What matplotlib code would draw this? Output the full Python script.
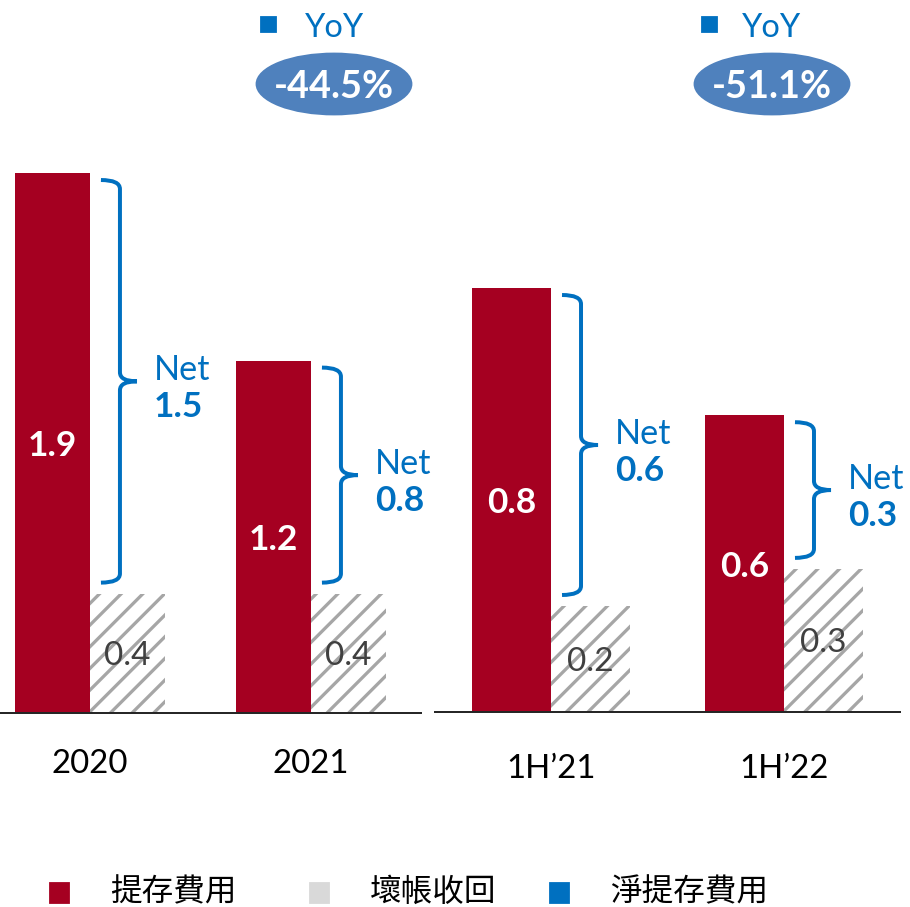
import matplotlib.pyplot as plt
import numpy as np
from matplotlib.patches import Ellipse, Rectangle, PathPatch
from matplotlib.path import Path

plt.rcParams['font.family'] = ['Lato', 'Noto Sans CJK TC', 'DejaVu Sans']
plt.rcParams['hatch.linewidth'] = 1.8

# data (NT$ bn)
periods_annual = ["2020", "2021"]
provision_annual = [1.90, 1.24]
recovery_annual = [0.42, 0.42]

periods_half = ["1H’21", "1H’22"]
provision_half = [0.80, 0.56]
recovery_half = [0.20, 0.27]

yoy_labels = ["-44.5%", "-51.1%"]
legend_labels = ["提存費用", "壞帳收回", "淨提存費用"]

RED = '#A50021'
GREY = '#D9D9D9'
HATCH = '#A6A6A6'
BLUE = '#0070C0'
OVAL = '#4F81BD'

DPI = 130
W, H = 910, 907
fig = plt.figure(figsize=(W / DPI, H / DPI), dpi=DPI)


def frac(x, y):
    # pixel position measured from top-left -> figure fraction
    return x / W, 1 - y / H


def brace(ax, xe, top, bottom):
    # curly brace to the right of the red bar, from its top to the recovery top
    to_px = ax.transData.transform
    ex, ty = to_px((xe, top))
    _, by = to_px((xe, bottom))
    y_top, y_bot = ty - 7, by + 11
    ym = (y_top + y_bot) / 2
    xs, xv, xt = ex + 11, ex + 30, ex + 47
    r = 9
    verts = [(xs, y_top), (xv, y_top), (xv, y_top - r), (xv, ym + r), (xv, ym), (xt, ym),
             (xv, ym), (xv, ym - r), (xv, y_bot + r), (xv, y_bot), (xs, y_bot)]
    codes = [Path.MOVETO, Path.CURVE3, Path.CURVE3, Path.LINETO, Path.CURVE3, Path.CURVE3,
             Path.CURVE3, Path.CURVE3, Path.LINETO, Path.CURVE3, Path.CURVE3]
    inv = ax.transData.inverted()
    path = Path(inv.transform(verts), codes)
    ax.add_patch(PathPatch(path, fill=False, edgecolor=BLUE, lw=2.2, capstyle='butt', clip_on=False))
    tx, ty1 = inv.transform((xt + 17, ym + 14))
    _, ty2 = inv.transform((xt + 17, ym - 23))
    ax.text(tx, ty1, 'Net', ha='left', va='center_baseline', color=BLUE, fontsize=19)
    ax.text(tx, ty2, f'{top - bottom:.1f}', ha='left', va='center_baseline', color=BLUE,
            fontsize=19.5, fontweight='bold')


def panel(left, right, base, ymax, xlim, labels, provision, recovery, pad):
    x0, y0 = frac(left, base)
    ax = fig.add_axes([x0, y0, (right - left) / W, 1 - y0])
    ax.set_xlim(*xlim)
    ax.set_ylim(0, ymax)
    w = 0.34
    x = np.arange(len(labels))
    ax.bar(x - w / 2, provision, w, color=RED, linewidth=0)
    ax.bar(x + w / 2, recovery, w, facecolor='white', edgecolor=HATCH, hatch='//', linewidth=0)
    for xi, p, r in zip(x, provision, recovery):
        ax.text(xi - w / 2, p / 2, f'{p:.1f}', ha='center', va='center_baseline', color='white',
                fontsize=19.5, fontweight='bold')
        ax.text(xi + w / 2, r / 2, f'{r:.1f}', ha='center', va='center_baseline', color='#404040',
                fontsize=18.5)
        brace(ax, xi, p, r)
    ax.set_xticks(x, labels)
    ax.tick_params(axis='x', length=0, pad=pad, labelsize=18.3)
    ax.set_yticks([])
    for s in ['top', 'right', 'left']:
        ax.spines[s].set_visible(False)
    ax.spines['bottom'].set_linewidth(1.1)
    ax.spines['bottom'].set_color('#262626')
    return ax


panel(0, 421, 713, 713 / 284.2, (-0.407, 1.498), periods_annual, provision_annual, recovery_annual, 20)
panel(435, 900, 712, 712 / 530.0, (-0.498, 1.498), periods_half, provision_half, recovery_half, 23.5)

# YoY bubbles
for (sq_x, txt_x, ov_x), lab in zip([(268, 305, 334), (709, 742, 772)], yoy_labels):
    sx, sy = frac(sq_x - 7, 32)
    fig.add_artist(Rectangle((sx, sy), 15 / W, 15 / H, transform=fig.transFigure, color=BLUE))
    fig.text(*frac(txt_x, 25), 'YoY', ha='left', va='center_baseline', color=BLUE, fontsize=18)
    ex, ey = frac(ov_x, 84)
    fig.add_artist(Ellipse((ex, ey), 155 / W, 61 / H, transform=fig.transFigure, color=OVAL))
    fig.text(ex, ey, lab, ha='center', va='center_baseline', color='white', fontsize=21,
             fontweight='bold')

# legend
for sq_x, col, lab in zip([50, 310, 550], [RED, GREY, BLUE], legend_labels):
    sx, sy = frac(sq_x, 903)
    fig.add_artist(Rectangle((sx, sy), 19 / W, 20 / H, transform=fig.transFigure, color=col))
    fig.text(*frac(sq_x + 60, 892), lab, ha='left', va='center', color='black',
             fontsize=17.5, family='Noto Sans CJK TC')

fig.savefig('out.png', dpi=DPI)
